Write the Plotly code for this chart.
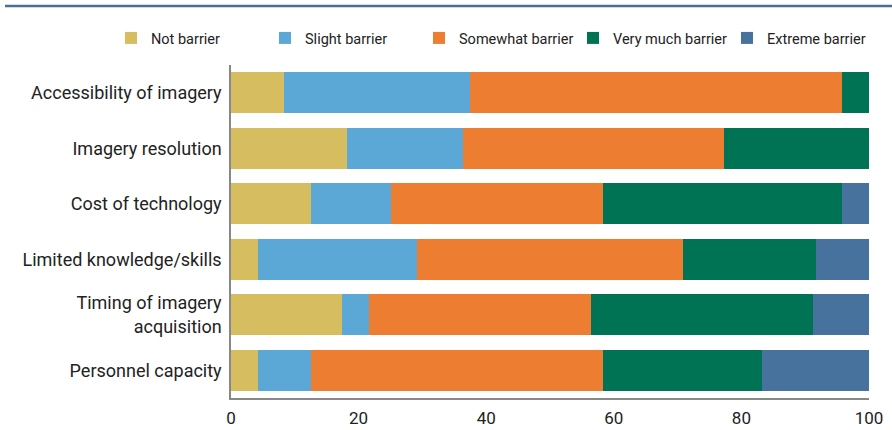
import plotly.graph_objects as go

categories = ["Accessibility of imagery", "Imagery resolution", "Cost of technology",
              "Limited knowledge/skills", "Timing of imagery<br>acquisition", "Personnel capacity"]
series_names = ["Not barrier", "Slight barrier", "Somewhat barrier", "Very much barrier", "Extreme barrier"]
not_barrier = [8.3, 18.2, 12.5, 4.2, 17.4, 4.2]
slight_barrier = [29.2, 18.2, 12.5, 25.0, 4.3, 8.3]
somewhat_barrier = [58.3, 40.9, 33.3, 41.7, 34.8, 45.8]
very_much_barrier = [4.2, 22.7, 37.5, 20.8, 34.8, 25.0]
extreme_barrier = [0.0, 0.0, 4.2, 8.3, 8.7, 16.7]
colors = ["#D5BD60", "#5BA8D6", "#ED7D31", "#007355", "#48729E"]

values = [not_barrier, slight_barrier, somewhat_barrier, very_much_barrier, extreme_barrier]

fig = go.Figure()
for name, vals, col in zip(series_names, values, colors):
    fig.add_trace(go.Bar(y=categories, x=vals, name=name, orientation="h",
                         marker=dict(color=col, line=dict(width=0)), hoverinfo="x+name"))

W, H = 892, 430
ml, mr, mt, mb = 231, 23, 65, 32
pw, ph = W - ml - mr, H - mt - mb

fig.update_layout(
    width=W, height=H, barmode="stack", bargap=0.27,
    margin=dict(l=ml, r=mr, t=mt, b=mb, autoexpand=False),
    paper_bgcolor="white", plot_bgcolor="white",
    font=dict(family="Roboto, sans-serif", size=18, color="#222"),
    legend=dict(orientation="h", x=(111 - ml) / pw, xanchor="left", y=1 + (mt - 38) / ph,
                yanchor="middle",
                font=dict(family="Roboto, sans-serif", size=14.5, color="#222"),
                traceorder="normal", itemwidth=30, entrywidth=109, entrywidthmode="pixels",
                bgcolor="rgba(0,0,0,0)"),
    xaxis=dict(range=[0, 100], tickvals=[0, 20, 40, 60, 80, 100], showgrid=False, zeroline=False,
               showline=True, linecolor="#888", linewidth=1.5, ticks="", ticklabelstandoff=4,
               tickfont=dict(size=17, color="#222"), fixedrange=True),
    yaxis=dict(autorange="reversed", showgrid=False, zeroline=False, showline=True, linecolor="#888",
               linewidth=1.5, ticks="", ticklabelstandoff=4, tickfont=dict(size=18, color="#222")),
    showlegend=True,
)
fig.add_shape(type="line", xref="paper", yref="paper",
              x0=(5 - ml) / pw, x1=(892 - ml) / pw, y0=1 + (mt - 6) / ph, y1=1 + (mt - 6) / ph,
              line=dict(color="#4A6F96", width=2.5))
fig.write_html("out.html")
